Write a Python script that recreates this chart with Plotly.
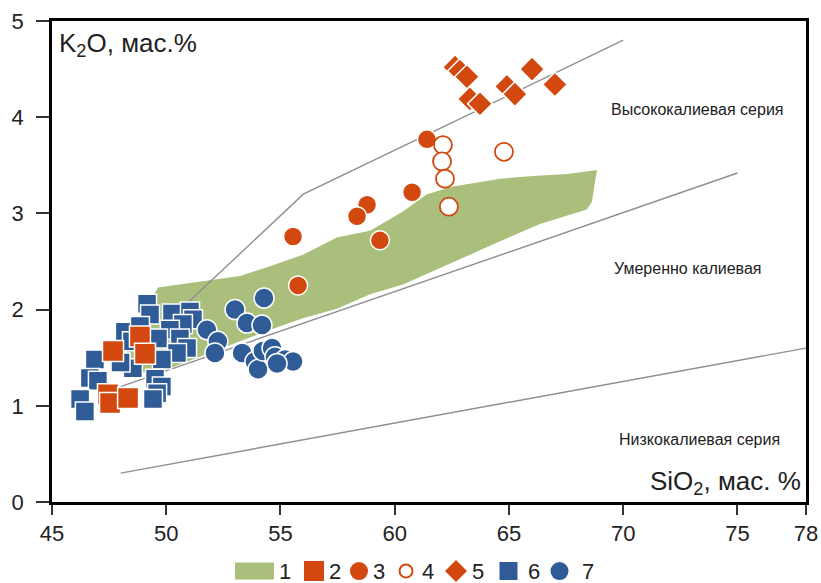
import plotly.graph_objects as go

# Field 1 outline (SiO2, K2O)
field_x = [49.64, 51.48, 53.23, 54.54, 55.98, 57.47, 58.92, 60.36, 61.41, 62.55, 63.29, 64.61,
           66.05, 67.54, 68.85, 68.63, 68.41, 66.36, 64.61, 63.29, 61.85, 60.36, 58.92, 57.47,
           55.98, 54.54, 53.23, 51.48, 50.16, 48.85, 47.98, 48.41, 49.29]
field_y = [2.23, 2.29, 2.35, 2.45, 2.57, 2.75, 2.82, 3.02, 3.20, 3.28, 3.31, 3.36,
           3.39, 3.41, 3.45, 3.12, 3.04, 2.89, 2.71, 2.57, 2.42, 2.26, 2.16, 2.01,
           1.91, 1.79, 1.67, 1.51, 1.39, 1.34, 1.36, 1.67, 2.09]

# Series boundaries
high_x = [48.6, 56.0, 70.0]
high_y = [1.55, 3.2, 4.8]
mid_x = [48.0, 75.0]
mid_y = [1.2, 3.42]
low_x = [48.0, 78.0]
low_y = [0.3, 1.6]

# Series 2: orange squares
s2_x = [47.67, 48.85, 49.07, 47.45, 47.54, 48.33]
s2_y = [1.57, 1.72, 1.54, 1.12, 1.03, 1.08]

# Series 3: orange filled circles
s3_x = [61.41, 60.76, 58.79, 58.35, 55.55, 59.35, 55.77]
s3_y = [3.77, 3.22, 3.09, 2.97, 2.76, 2.72, 2.25]

# Series 4: open circles
s4_x = [62.11, 62.07, 62.20, 62.37, 64.78]
s4_y = [3.71, 3.54, 3.36, 3.07, 3.64]

# Series 5: diamonds
s5_x = [62.64, 62.85, 63.16, 63.29, 63.73, 64.91, 65.26, 66.01, 67.01]
s5_y = [4.52, 4.48, 4.42, 4.19, 4.14, 4.32, 4.24, 4.50, 4.34]

# Series 6: blue squares
s6_x = [49.16, 49.29, 50.25, 51.04, 51.17, 50.73, 50.16, 48.19, 48.50, 49.64, 50.60, 50.91,
        50.47, 49.81, 46.88, 48.54, 46.66, 47.01, 49.51, 49.81, 49.60, 46.23, 46.44, 49.42,
        48.85, 48.0]
s6_y = [2.06, 1.95, 1.96, 1.98, 1.90, 1.85, 1.79, 1.77, 1.67, 1.70, 1.70, 1.60,
        1.55, 1.48, 1.48, 1.39, 1.29, 1.26, 1.28, 1.20, 1.13, 1.07, 0.94, 1.07,
        1.83, 1.45]

# Series 7: blue circles
s7_x = [54.28, 53.01, 53.53, 54.19, 51.78, 52.26, 52.13, 53.32, 53.88, 54.02, 54.23, 54.63,
        54.76, 55.20, 55.55, 54.85]
s7_y = [2.12, 2.00, 1.86, 1.84, 1.79, 1.67, 1.55, 1.55, 1.46, 1.38, 1.57, 1.60,
        1.51, 1.48, 1.46, 1.44]

x_ticks = [45, 50, 55, 60, 65, 70, 75, 78]
y_ticks = [0, 1, 2, 3, 4, 5]
legend_labels = ["1", "2", "3", "4", "5", "6", "7"]

ORANGE = "#d2480e"
BLUE = "#2f5b97"
GREEN = "#a9bf7b"
GREY = "#8f8f8f"

fig = go.Figure()
fig.add_trace(go.Scatter(x=field_x, y=field_y, fill="toself", mode="lines",
                         line=dict(width=0, color=GREEN), fillcolor=GREEN, name="1"))
for lx, ly in [(high_x, high_y), (mid_x, mid_y), (low_x, low_y)]:
    fig.add_trace(go.Scatter(x=lx, y=ly, mode="lines", line=dict(color=GREY, width=1.4),
                             hoverinfo="skip"))

wl = dict(color="white", width=1.5)
fig.add_trace(go.Scatter(x=s6_x, y=s6_y, mode="markers", name="6",
                         marker=dict(symbol="square", size=19, color=BLUE, line=wl)))
fig.add_trace(go.Scatter(x=s2_x, y=s2_y, mode="markers", name="2",
                         marker=dict(symbol="square", size=21, color=ORANGE, line=wl)))
fig.add_trace(go.Scatter(x=s7_x, y=s7_y, mode="markers", name="7",
                         marker=dict(symbol="circle", size=20, color=BLUE, line=wl)))
fig.add_trace(go.Scatter(x=s3_x, y=s3_y, mode="markers", name="3",
                         marker=dict(symbol="circle", size=19, color=ORANGE, line=wl)))
fig.add_trace(go.Scatter(x=s4_x, y=s4_y, mode="markers", name="4",
                         marker=dict(symbol="circle", size=18, color="white",
                                     line=dict(color=ORANGE, width=1.8))))
fig.add_trace(go.Scatter(x=s5_x, y=s5_y, mode="markers", name="5",
                         marker=dict(symbol="diamond", size=19, color=ORANGE, line=wl)))

axis_common = dict(showgrid=False, zeroline=False, showline=True, linecolor="black",
                   linewidth=2.5, mirror=True, ticks="outside", tickwidth=1.5,
                   tickcolor="#333", tickfont=dict(size=22, color="#222"), automargin=False)

fig.update_layout(
    width=821, height=583,
    margin=dict(l=52, r=15, t=21, b=81),
    plot_bgcolor="white", paper_bgcolor="white",
    font=dict(family="Liberation Sans, Arial, sans-serif", color="#222"),
    xaxis=dict(range=[45, 78], tickvals=x_ticks, ticktext=[str(v) for v in x_ticks],
               ticklen=10, **axis_common),
    yaxis=dict(range=[0, 5], tickvals=y_ticks, ticktext=[str(v) for v in y_ticks],
               ticklen=13, ticklabelstandoff=8, **axis_common),
    showlegend=False,
)

ann = [
    dict(text="K<sub>2</sub>O, мас.%", x=0.006, y=0.952, xanchor="left", size=26),
    dict(text="SiO<sub>2</sub>, мас. %", x=0.996, y=0.04, xanchor="right", size=26),
    dict(text="Высококалиевая серия", x=0.855, y=0.815, xanchor="center", size=16),
    dict(text="Умеренно калиевая", x=0.8435, y=0.486, xanchor="center", size=16),
    dict(text="Низкокалиевая серия", x=0.859, y=0.129, xanchor="center", size=16),
]
for a in ann:
    fig.add_annotation(text=a["text"], x=a["x"], y=a["y"], xref="paper", yref="paper",
                       xanchor=a["xanchor"], yanchor="middle", showarrow=False,
                       font=dict(size=a["size"], color="#222"))

# Manual legend (paper coords, pixel-sized symbols)
LY = -0.1435
def px(xp):
    return (xp - 52) / 754.0

sym = dict(xref="paper", yref="paper", xsizemode="pixel", ysizemode="pixel", yanchor=LY)
fig.add_shape(type="rect", xanchor=px(254.5), x0=-19.5, x1=19.5, y0=-8.5, y1=8.5,
              fillcolor=GREEN, line=dict(width=0), **sym)
fig.add_shape(type="rect", xanchor=px(314), x0=-10, x1=10, y0=-10, y1=10,
              fillcolor=ORANGE, line=dict(width=0), **sym)
fig.add_shape(type="circle", xanchor=px(359), x0=-9, x1=9, y0=-9, y1=9,
              fillcolor=ORANGE, line=dict(width=0), **sym)
fig.add_shape(type="circle", xanchor=px(406), x0=-6.5, x1=6.5, y0=-6.5, y1=6.5,
              fillcolor="white", line=dict(width=2, color=ORANGE), **sym)
fig.add_shape(type="path", xanchor=px(456), path="M-11,0 L0,11 L11,0 L0,-11 Z",
              fillcolor=ORANGE, line=dict(width=0), **sym)
fig.add_shape(type="rect", xanchor=px(508.5), x0=-9, x1=9, y0=-9, y1=9,
              fillcolor=BLUE, line=dict(width=0), **sym)
fig.add_shape(type="circle", xanchor=px(559.5), x0=-9, x1=9, y0=-9, y1=9,
              fillcolor=BLUE, line=dict(width=0), **sym)

label_px = [285, 335, 379, 428, 478, 534, 588]
for lab, lp in zip(legend_labels, label_px):
    fig.add_annotation(text=lab, x=px(lp), y=LY, xref="paper", yref="paper",
                       xanchor="center", yanchor="middle", showarrow=False,
                       font=dict(size=22, color="#222"))

fig.write_html("out.html", config={"displayModeBar": False},
               post_script="document.body.style.margin='0';document.body.style.overflow='hidden';")
